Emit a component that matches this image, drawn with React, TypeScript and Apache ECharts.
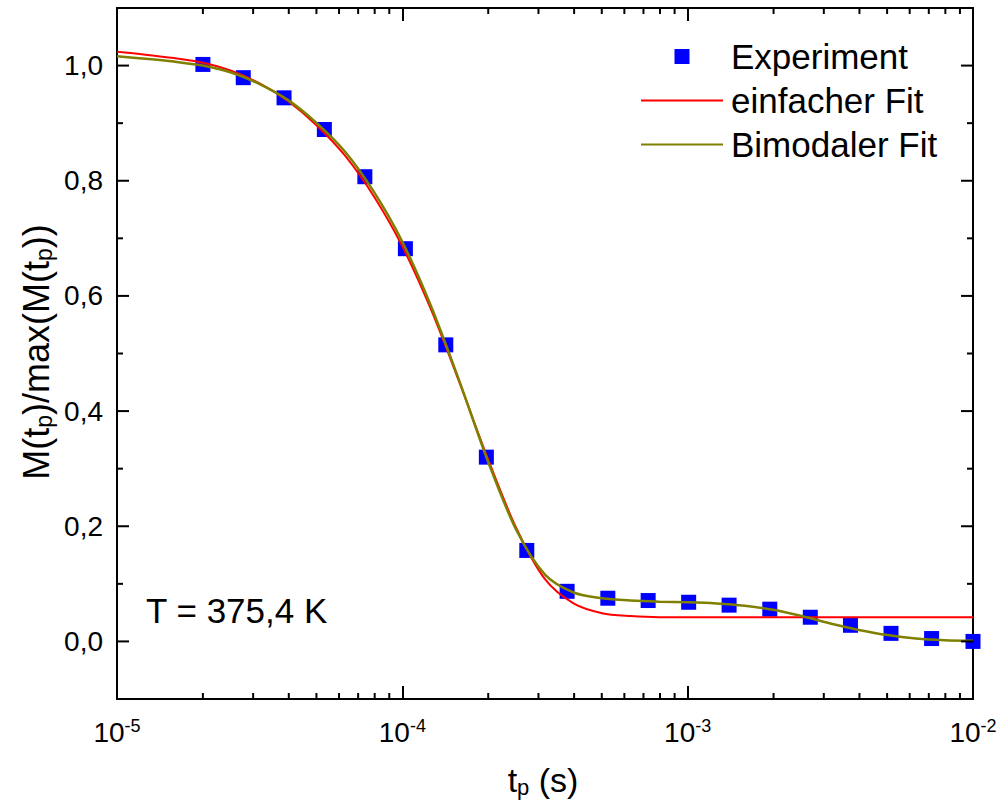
import React, { useEffect, useRef } from 'react';
import * as echarts from 'echarts';

// Experimental points: pulse time t_p (s) and normalised magnetisation
const expT = [2.0e-5, 2.77e-5, 3.85e-5, 5.33e-5, 7.39e-5, 1.025e-4, 1.42e-4, 1.97e-4, 2.73e-4, 3.78e-4, 5.25e-4, 7.27e-4, 1.008e-3, 1.397e-3, 1.94e-3, 2.69e-3, 3.72e-3, 5.16e-3, 7.16e-3, 1.0e-2];
const expM = [1.002, 0.979, 0.944, 0.889, 0.807, 0.682, 0.515, 0.32, 0.158, 0.087, 0.075, 0.071, 0.068, 0.063, 0.056, 0.042, 0.028, 0.014, 0.005, 0.0];

// Fit curves sampled along t_p
const fitT = [1.0e-5, 1.259e-5, 1.585e-5, 1.995e-5, 2.512e-5, 3.162e-5, 3.981e-5, 5.012e-5, 6.31e-5, 7.943e-5, 1.0e-4, 1.259e-4, 1.585e-4, 1.995e-4, 2.512e-4, 3.162e-4, 3.981e-4, 5.012e-4, 6.31e-4, 7.943e-4, 1.0e-3, 1.259e-3, 1.585e-3, 1.995e-3, 2.512e-3, 3.162e-3, 3.981e-3, 5.012e-3, 6.31e-3, 7.943e-3, 1.0e-2];
const fitSingle = [1.024, 1.019, 1.013, 1.005, 0.991, 0.969, 0.938, 0.896, 0.843, 0.773, 0.686, 0.577, 0.45, 0.317, 0.196, 0.108, 0.066, 0.049, 0.044, 0.042, 0.042, 0.042, 0.042, 0.042, 0.042, 0.042, 0.042, 0.042, 0.042, 0.042, 0.042];
const fitBimodal = [1.016, 1.012, 1.007, 1.0, 0.988, 0.968, 0.94, 0.9, 0.85, 0.781, 0.694, 0.583, 0.452, 0.313, 0.193, 0.116, 0.085, 0.075, 0.071, 0.069, 0.068, 0.066, 0.062, 0.055, 0.044, 0.031, 0.02, 0.011, 0.005, 0.002, 0.001];

// Tick positions
const xMinorTicks = [2e-5, 3e-5, 4e-5, 5e-5, 6e-5, 7e-5, 8e-5, 9e-5, 2e-4, 3e-4, 4e-4, 5e-4, 6e-4, 7e-4, 8e-4, 9e-4, 2e-3, 3e-3, 4e-3, 5e-3, 6e-3, 7e-3, 8e-3, 9e-3];
const yMajorTicks = [0, 0.2, 0.4, 0.6, 0.8, 1.0];
const yMinorTicks = [0.1, 0.3, 0.5, 0.7, 0.9];

const FONT = "'Liberation Sans', Arial, Helvetica, sans-serif";

export default function App() {
  const ref = useRef<HTMLDivElement>(null);

  useEffect(() => {
    if (!ref.current) return;
    const chart = echarts.init(ref.current, undefined, { renderer: 'svg' });

    const axisLine = { show: true, onZero: false, lineStyle: { color: '#000', width: 2 } };

    const option: any = {
      animation: false,
      backgroundColor: '#fff',
      grid: { left: 117, right: 29, top: 8, bottom: 108, containLabel: false },
      legend: {
        data: [
          { name: 'Experiment', icon: 'path://M0,0H10V10H0Z' },
          { name: 'einfacher Fit', itemStyle: { opacity: 0 } },
          { name: 'Bimodaler Fit', itemStyle: { opacity: 0 } },
        ],
        orient: 'vertical',
        left: 640,
        top: 39,
        padding: 0,
        itemWidth: 82,
        itemHeight: 15,
        itemGap: 9,
        selectedMode: false,
        textStyle: { fontSize: 35, fontFamily: FONT, color: '#000', padding: [0, 0, 0, 3] },
      },
      xAxis: [
        {
          type: 'log',
          logBase: 10,
          min: 1e-5,
          max: 1e-2,
          position: 'bottom',
          axisLine,
          axisTick: { show: true, inside: true, length: 13, lineStyle: { color: '#000', width: 2 } },
          splitLine: { show: false },
          minorTick: { show: false },
          axisLabel: {
            margin: 18,
            color: '#000',
            formatter: (v: number) => `{b|10}{s|${Math.round(Math.log10(v))}}`,
            rich: {
              b: { fontSize: 28, fontFamily: FONT, color: '#000', lineHeight: 30 },
              s: { fontSize: 18, fontFamily: FONT, color: '#000', lineHeight: 18, verticalAlign: 'top' },
            },
          },
        },
        {
          type: 'log',
          logBase: 10,
          min: 1e-5,
          max: 1e-2,
          position: 'top',
          axisLine,
          axisTick: { show: true, inside: true, length: 13, lineStyle: { color: '#000', width: 2 } },
          splitLine: { show: false },
          axisLabel: { show: false },
        },
      ],
      yAxis: [
        {
          type: 'value',
          min: -0.1,
          max: 1.1,
          interval: 0.1,
          position: 'left',
          axisLine,
          axisTick: { show: false },
          splitLine: { show: false },
          axisLabel: {
            margin: 14,
            fontSize: 28,
            fontFamily: FONT,
            color: '#000',
            formatter: (v: number) => {
              const k = Math.round(v * 10);
              if (k < 0 || k > 10 || k % 2 !== 0) return '';
              return (k / 10).toFixed(1).replace('.', ',');
            },
          },
        },
        {
          type: 'value',
          min: -0.1,
          max: 1.1,
          interval: 0.1,
          position: 'right',
          axisLine,
          axisTick: { show: false },
          splitLine: { show: false },
          axisLabel: { show: false },
        },
      ],
      series: [
        {
          name: 'Experiment',
          type: 'scatter',
          data: expT.map((t, i) => [t, expM[i]]),
          symbol: 'rect',
          symbolSize: 15,
          itemStyle: { color: '#0000FF', opacity: 1 },
          z: 2,
        },
        {
          name: 'einfacher Fit',
          type: 'line',
          data: fitT.map((t, i) => [t, fitSingle[i]]),
          symbol: 'none',
          smooth: 0.3,
          lineStyle: { color: '#FF0000', width: 2 },
          itemStyle: { color: '#FF0000' },
          z: 3,
        },
        {
          name: 'Bimodaler Fit',
          type: 'line',
          data: fitT.map((t, i) => [t, fitBimodal[i]]),
          symbol: 'none',
          smooth: 0.3,
          lineStyle: { color: '#808000', width: 2.5 },
          itemStyle: { color: '#808000' },
          z: 4,
        },
        {
          name: 'xMinorTicks',
          type: 'custom',
          silent: true,
          clip: false,
          z: 10,
          data: xMinorTicks.map((t) => [t, 0]),
          renderItem: (params: any, api: any) => {
            const p = api.coord([api.value(0), api.value(1)]);
            const cs = params.coordSys;
            const st = { stroke: '#000', lineWidth: 2 };
            return {
              type: 'group',
              children: [
                { type: 'line', shape: { x1: p[0], y1: cs.y + cs.height, x2: p[0], y2: cs.y + cs.height - 6 }, style: st },
                { type: 'line', shape: { x1: p[0], y1: cs.y, x2: p[0], y2: cs.y + 6 }, style: st },
              ],
            };
          },
        },
        {
          name: 'yTicks',
          type: 'custom',
          silent: true,
          clip: false,
          z: 10,
          data: [
            ...yMajorTicks.map((v) => [1e-4, v, 12]),
            ...yMinorTicks.map((v) => [1e-4, v, 6]),
          ],
          renderItem: (params: any, api: any) => {
            const p = api.coord([api.value(0), api.value(1)]);
            const len = api.value(2);
            const cs = params.coordSys;
            const st = { stroke: '#000', lineWidth: 2 };
            return {
              type: 'group',
              children: [
                { type: 'line', shape: { x1: cs.x, y1: p[1], x2: cs.x + len, y2: p[1] }, style: st },
                { type: 'line', shape: { x1: cs.x + cs.width, y1: p[1], x2: cs.x + cs.width - len, y2: p[1] }, style: st },
              ],
            };
          },
        },
      ],
      graphic: [
        {
          type: 'text',
          x: 146,
          y: 610,
          style: { text: 'T = 375,4 K', fontSize: 35, fontFamily: FONT, fill: '#000', verticalAlign: 'middle', align: 'left' },
        },
        {
          type: 'text',
          x: 543,
          y: 780,
          style: {
            text: '{a|t}{b|p}{a| (s)}',
            align: 'center',
            verticalAlign: 'middle',
            rich: {
              a: { fontSize: 34, fontFamily: FONT, fill: '#000', lineHeight: 36 },
              b: { fontSize: 22, fontFamily: FONT, fill: '#000', lineHeight: 8, verticalAlign: 'bottom' },
            },
          },
        },
        {
          type: 'text',
          x: 36,
          y: 352,
          rotation: Math.PI / 2,
          style: {
            text: '{a|M(t}{b|p}{a|)/max(M(t}{b|p}{a|))}',
            align: 'center',
            verticalAlign: 'middle',
            rich: {
              a: { fontSize: 36, fontFamily: FONT, fill: '#000', lineHeight: 38 },
              b: { fontSize: 23, fontFamily: FONT, fill: '#000', lineHeight: 10, verticalAlign: 'bottom' },
            },
          },
        },
      ],
    };

    chart.setOption(option);
    return () => chart.dispose();
  }, []);

  return (
    <div
      ref={ref}
      style={{ position: 'absolute', left: 0, top: 0, width: 1002, height: 807, background: '#fff' }}
    />
  );
}
